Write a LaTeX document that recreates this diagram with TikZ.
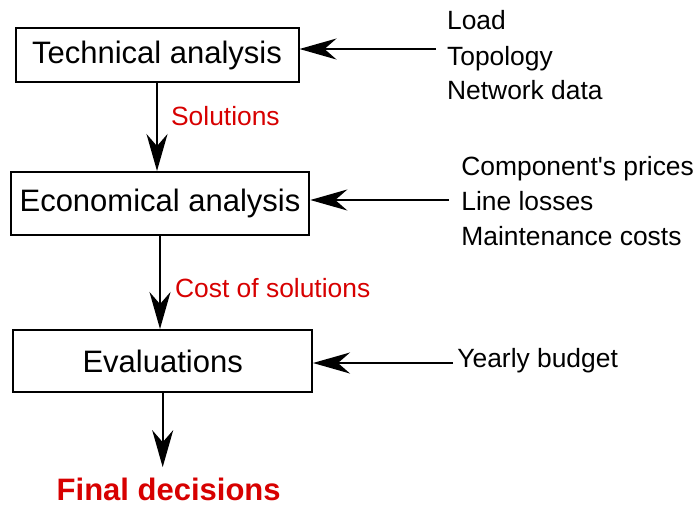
\documentclass[tikz,border=0pt]{standalone}
\usepackage{fontspec}
\setmainfont{Liberation Sans}[Ligatures=TeXOff]
\usetikzlibrary{arrows.meta}

\definecolor{redtext}{RGB}{215,0,0}

\tikzset{
    box/.style={draw, line width=1pt, inner sep=0pt, font=\fontsize{15.5}{18}\selectfont},
    side/.style={anchor=base west, inner sep=0pt, font=\fontsize{13.2}{16}\selectfont},
    lbl/.style={side, text=redtext},
    flow/.style={-{Stealth[length=18.5pt, width=10.5pt]}, line width=1pt}
}

\begin{document}
\begin{tikzpicture}[x=0.5pt, y=-0.5pt]

        \useasboundingbox (0,0) rectangle (694,505);

        % Boxes
        \node[box, minimum width=141.5pt, minimum height=27pt] (tech) at (157,55) {Technical analysis};
        \node[box, minimum width=149.3pt, minimum height=31.5pt] (econ) at (160,203.5) {Economical analysis};
        \node[box, minimum width=149.3pt, minimum height=31pt] (eval) at (162.7,361) {Evaluations};

        % Result
        \node[anchor=base, inner sep=5pt, text=redtext, font=\fontsize{15.5}{18}\selectfont\bfseries] (final) at (168.7,500) {Final decisions};

        % Inputs
        \foreach \txt/\yy/\nm in {Load/29/load, Topology/65/topo, Network data/99/netdata} {
            \node[side] (\nm) at (446.7,\yy) {\txt};
        }
        \foreach \txt/\yy/\nm in {Component's prices/175/prices, Line losses/210/losses, Maintenance costs/245/maint} {
            \node[side] (\nm) at (461,\yy) {\txt};
        }
        \node[side] (budget) at (457,367) {Yearly budget};

        % Input arrows
        \coordinate (in1) at (436,49);
        \coordinate (in2) at (449,200);
        \coordinate (in3) at (453,363);
        \draw[flow] (in1) -- (in1 -| tech.east);
        \draw[flow] (in2) -- (in2 -| econ.east);
        \draw[flow] (in3) -- (in3 -| eval.east);

        % Flow
        \draw[flow] (tech.south) -- (tech.south |- econ.north);
        \draw[flow] (econ.south) -- (econ.south |- eval.north);
        \draw[flow] (eval.south) -- (eval.south |- final.north);

        % Labels
        \node[lbl] (sol) at (170.7,125) {Solutions};
        \node[lbl] (cost) at (174.7,297) {Cost of solutions};

\end{tikzpicture}
\end{document}
